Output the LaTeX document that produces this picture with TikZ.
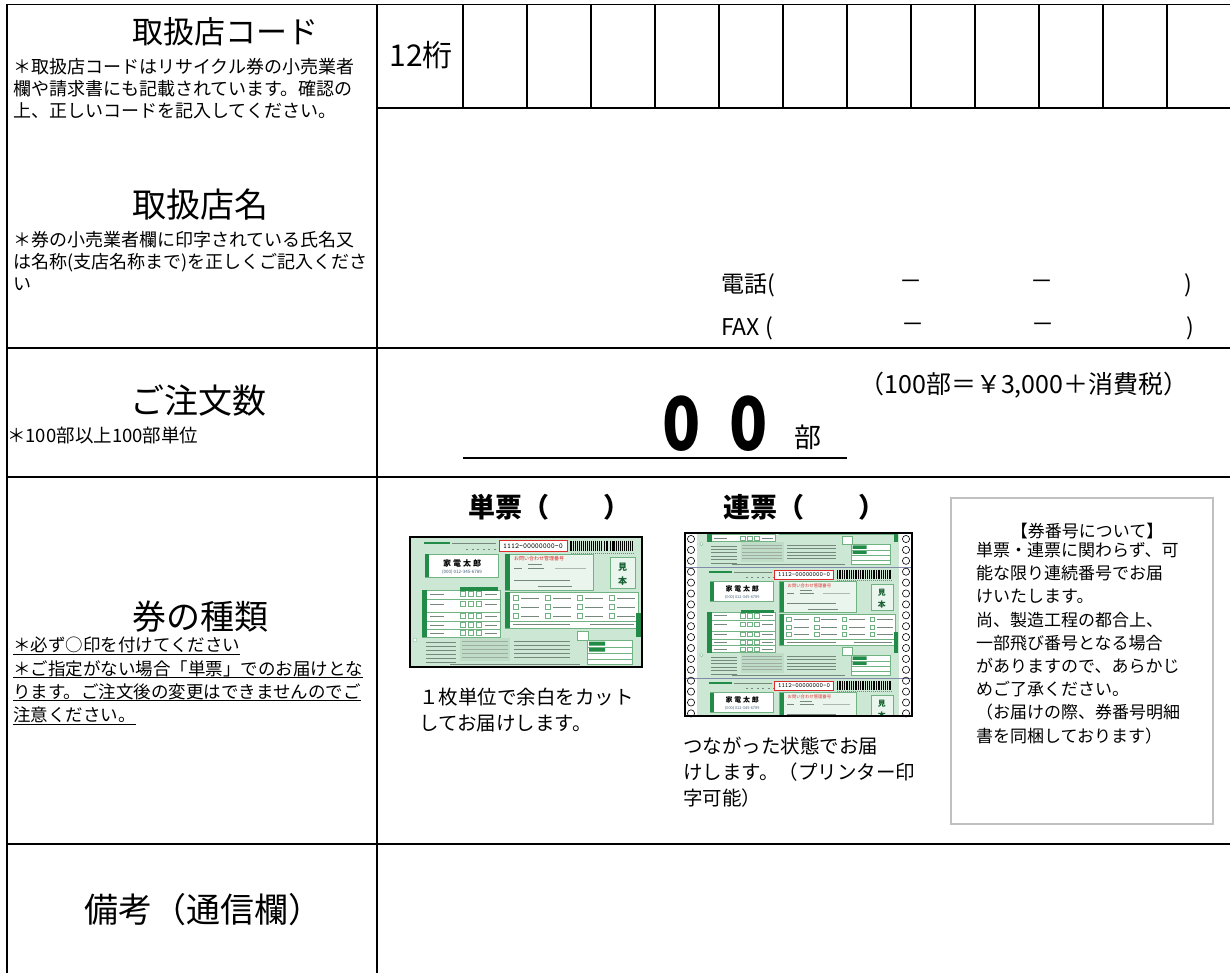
\documentclass[tikz,border=0pt]{standalone}
\usepackage{fontspec}
\setmainfont{Noto Sans CJK JP}
\usetikzlibrary{positioning}
\definecolor{ticketgreen}{RGB}{204,232,212}
\definecolor{ticketlight}{RGB}{234,245,237}
\definecolor{darkgreen}{RGB}{34,139,72}
\definecolor{midgreen}{RGB}{112,178,130}
\definecolor{inkgray}{RGB}{118,136,124}
\definecolor{stampred}{RGB}{222,44,44}
\definecolor{phoneblue}{RGB}{62,92,120}
\definecolor{boxgray}{RGB}{192,192,192}
\definecolor{sepgray}{RGB}{130,140,170}

\newcommand{\undertext}[1]{\setbox0\hbox{#1}\rlap{\rule[-3pt]{\wd0}{1.2pt}}\box0}

\newcommand{\ticketbase}{%
  \fill[ticketgreen] (0,0) rectangle (232,130);
  \draw[midgreen,fill=white,line width=0.5pt] (12,53) rectangle (90,100);
  \fill[darkgreen] (12,53) rectangle (17,100);
  \fill[darkgreen] (50,50) rectangle (88,54);
  \foreach \y in {62,75,84,92} \draw[midgreen,line width=0.4pt] (17,\y) -- (90,\y);
  \foreach \y in {57,67,79,88,96} {
    \draw[inkgray,line width=0.7pt] (20,\y) -- (34,\y);
    \foreach \x in {50,58,66} \draw[midgreen,line width=0.4pt] (\x,\y-2.5) rectangle ++(5,5);
    \draw[inkgray,line width=0.5pt] (75,\y) -- (87,\y);
  }
  \draw[midgreen,fill=white,line width=0.5pt] (95,55) rectangle (228,91);
  \fill[darkgreen] (95,55) rectangle (100,91);
  \foreach \y in {61,70,79} \foreach \x in {103,135,167,199} {
    \draw[midgreen,line width=0.4pt] (\x,\y-2.5) rectangle ++(5,5);
    \draw[inkgray,line width=0.6pt] (\x+8,\y) -- ++(18,0);
  }
  \draw[midgreen,line width=0.4pt] (100,84) -- (228,84);
  \draw[inkgray,line width=0.5pt] (103,87.5) -- (160,87.5) (180,87.5) -- (224,87.5);
  \fill[darkgreen] (226,76) rectangle (231,100);
  \foreach \y in {105,109,...,125} \draw[inkgray,line width=0.4pt] (16,\y) -- (46,\y);
  \fill[midgreen!45] (50,101) rectangle (100,124);
  \foreach \y in {104,108,...,120} \draw[inkgray!70,line width=0.4pt] (52,\y) -- (98,\y);
  \foreach \y in {104,108,...,120} \draw[inkgray,line width=0.4pt] (104,\y) -- (160,\y);
  \draw[inkgray,line width=0.4pt] (40,127) -- (170,127);
  \draw[midgreen,fill=white,line width=0.4pt] (167,94) rectangle (178,103);
  \draw[midgreen,fill=white,line width=0.4pt] (177,103) rectangle (222,127);
  \fill[darkgreen] (179,104.5) rectangle (195,108.5) (179,111) rectangle (195,114.5);
  \foreach \y in {110,116,122} \draw[midgreen,line width=0.3pt] (177,\y) -- (222,\y);
  \draw[midgreen,fill=white,line width=0.3pt] (5,103) circle (2pt);
}

\newcommand{\ticketupper}{%
  \draw[darkgreen,line width=1.6pt] (14,6) -- (40,6);
  \draw[inkgray,line width=0.7pt] (42,6) -- (86,6);
  \draw[inkgray,line width=0.9pt,dash pattern=on 2pt off 3.5pt] (56,12) -- (88,12);
  \node[stamp] (stampno) at (123,9) {1112-00000000-0};
  \foreach \i [evaluate=\i as \w using {0.45+0.7*(mod(\i,3)==0)}] in {0,...,30}
    \draw[line width=\w pt] ({161+2.05*\i},3.5) -- ++(0,10.5);
  \draw[inkgray,line width=0.5pt,dash pattern=on 1pt off 1pt] (161,16) -- (224,16);
  \draw[midgreen,fill=white,line width=0.5pt] (15,17) rectangle (88,40);
  \fill[darkgreen] (15,17) rectangle (19,40);
  \node[tinytext,font=\bfseries\fontsize{8}{8}\selectfont] (owner) at (52,26) {家\hspace{2pt}電\hspace{2pt}太\hspace{2pt}郎};
  \node[tinytext,text=phoneblue] (ownertel) at (52,35) {(000)\ 012-345-6789};
  \draw[midgreen,fill=ticketlight,line width=0.5pt] (95,17) rectangle (183,53);
  \fill[darkgreen] (95,17) rectangle (100,53);
  \node[tinytext,font=\fontsize{5}{5}\selectfont,text=stampred,anchor=west] (askno) at (104,21.5) {お問い合わせ管理番号};
  \draw[inkgray,line width=0.5pt] (118,27) -- (132,27) (104,31) -- (112,31) (118,31) -- (134,31);
  \draw[inkgray!60,line width=0.5pt] (145,31) -- (176,31);
  \draw[inkgray,line width=0.9pt] (104,43) -- (160,43);
  \draw[inkgray,line width=0.5pt] (128,49) -- (162,49);
  \draw[midgreen,fill=ticketlight,line width=0.5pt] (200,20) rectangle (225,51);
  \node[mihon] (mihonA) at (212.5,30) {見};
  \node[mihon] (mihonB) at (212.5,44) {本};
}

\newcommand{\recycleticket}{\ticketbase\ticketupper}

\begin{document}
\begin{tikzpicture}[x=1pt,y=-1pt,
  tableline/.style={line width=1.3pt},
  head/.style={font=\fontsize{34}{40}\selectfont,inner sep=0pt},
  note/.style={font=\fontsize{18}{22}\selectfont,align=left,anchor=west,inner sep=0pt},
  field/.style={font=\fontsize{23}{28}\selectfont,inner sep=0pt},
  kind/.style={font=\bfseries\fontsize{27}{32}\selectfont,inner sep=0pt},
  capt/.style={font=\fontsize{19.5}{26}\selectfont,align=left,anchor=west,inner sep=0pt},
  bigzero/.style={font=\bfseries\fontsize{74}{74}\selectfont,inner sep=0pt,xscale=0.85,transform shape},
  stamp/.style={draw=stampred,fill=white,line width=0.8pt,inner sep=0pt,minimum width=68pt,minimum height=11pt,font=\ttfamily\fontsize{7.5}{8}\selectfont,transform shape},
  tinytext/.style={font=\fontsize{4.5}{5}\selectfont,inner sep=0pt,transform shape},
  mihon/.style={font=\bfseries\fontsize{9}{9}\selectfont,text=darkgreen!70!black,inner sep=0pt,transform shape}]
  \useasboundingbox (0,0) rectangle (1230,973);
  \draw[tableline] (7,973) -- (7,4.5) -- (1230,4.5);
  \draw[tableline] (377,4.5) -- (377,973);
  \draw[tableline] (377,108) -- (1230,108);
  \foreach \x in {463,527,...,1167} \draw[tableline] (\x,4.5) -- (\x,108);
  \foreach \y in {348,477,844} \draw[tableline] (7,\y) -- (1230,\y);

  \node[head,font=\fontsize{31}{36}\selectfont] (codehead) at (225,32) {取扱店コード};
  \node[note] (codenote) at (13,89) {＊取扱店コードはリサイクル券の小売業者\\欄や請求書にも記載されています。確認の\\上、正しいコードを記入してください。};
  \node[field,font=\fontsize{30}{36}\selectfont] (digits) at (421,55) {12桁};
  \node[head] (namehead) at (200,205) {取扱店名};
  \node[note] (namenote) at (13,261) {＊券の小売業者欄に印字されている氏名又\\は名称(支店名称まで)を正しくご記入くださ\\い};
  \node[field,anchor=west] (tel) at (721,285) {電話(};
  \node[field] (teldashA) at (911,285) {－};
  \node[field] (teldashB) at (1042,285) {－};
  \node[field] (telend) at (1188,285) {)};
  \node[field,anchor=west] (fax) at (721,328) {FAX (};
  \node[field] (faxdashA) at (913,328) {－};
  \node[field] (faxdashB) at (1043,328) {－};
  \node[field] (faxend) at (1190,328) {)};

  \node[head] (orderhead) at (198,401) {ご注文数};
  \node[note,font=\fontsize{18.5}{22}\selectfont] (ordernote) at (7,435) {＊100部以上100部単位};
  \node[bigzero] (zeroA) at (682,424) {0};
  \node[bigzero] (zeroB) at (749,424) {0};
  \node[field,font=\fontsize{27}{30}\selectfont] (unit) at (808,437) {部};
  \node[field,font=\fontsize{25}{28}\selectfont] (price) at (1024,385) {（100部＝￥3,000＋消費税）};
  \draw[tableline] (463,458) -- (847,458);

  \node[head] (kindhead) at (200,617) {券の種類};
  \node[note,font=\fontsize{17.5}{23.3}\selectfont] (kindnote) at (13,681) {\undertext{＊必ず○印を付けてください}\\\undertext{＊ご指定がない場合「単票」でのお届けとな}\\\undertext{ります。ご注文後の変更はできませんのでご}\\\undertext{注意ください。}};
  \node[kind] (single) at (549,507) {単票（　　）};
  \node[kind] (multi) at (804,507) {連票（　　）};

  \begin{scope}[shift={(410,537)}]
    \recycleticket
  \end{scope}
  \draw[line width=1.5pt] (410,537) rectangle (642,667);
  \node[capt] (singlecap) at (419,710.5) {１枚単位で余白をカット\\してお届けします。};

  \fill[white] (685,533) rectangle (912,716);
  \begin{scope}
    \clip (697,533) rectangle (899,716);
    \begin{scope}[shift={(697,456)},xscale=0.87,yscale=0.855]
      \ticketbase
    \end{scope}
    \foreach \t in {567,678} {
      \begin{scope}[shift={(697,\t)},xscale=0.87,yscale=0.855]
        \recycleticket
      \end{scope}
    }
  \end{scope}
  \foreach \y in {567,678} \draw[sepgray,line width=0.8pt] (685,\y) -- (912,\y);
  \foreach \i in {0,...,16} {
    \draw[line width=0.6pt] (691,{539+10.9*\i}) circle (3.6pt);
    \draw[line width=0.6pt] (906,{539+10.9*\i}) circle (3.6pt);
  }
  \draw[line width=1.2pt] (685,533) rectangle (912,716);
  \node[capt] (multicap) at (683,772) {つながった状態でお届\\けします。（プリンター印\\字可能）};

  \node[draw=boxgray,line width=2pt,minimum width=262pt,minimum height=326pt,inner sep=0pt] (numbox) at (1082,661) {};
  \node[field,font=\fontsize{17}{23.2}\selectfont,on grid,below=26pt of numbox.north,xshift=5pt] (numhead) {【券番号について】};
  \node[note,font=\fontsize{17}{23.2}\selectfont] (numnote) at (976,643) {単票・連票に関わらず、可\\能な限り連続番号でお届\\けいたします。\\尚、製造工程の都合上、\\一部飛び番号となる場合\\がありますので、あらかじ\\めご了承ください。\\（お届けの際、券番号明細\\書を同梱しております）};

  \node[head] (memohead) at (203,910) {備考（通信欄）};
\end{tikzpicture}
\end{document}
